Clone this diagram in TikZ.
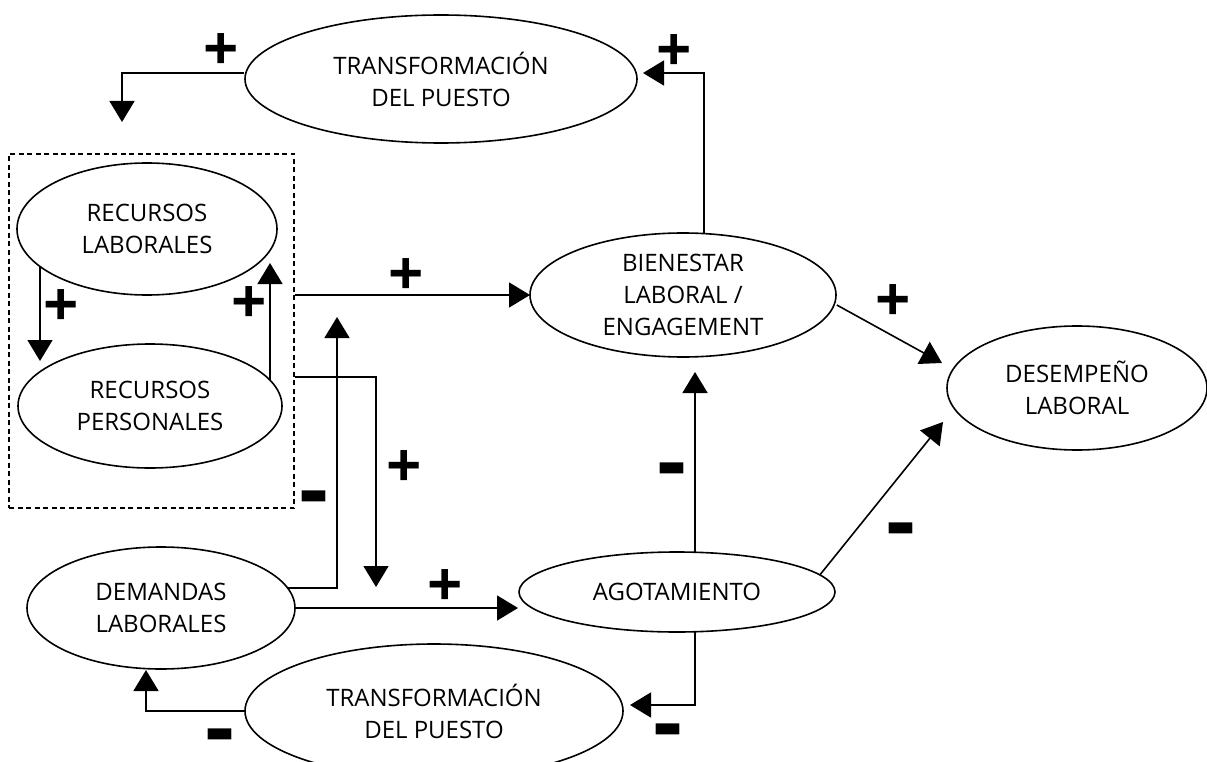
\documentclass[tikz,border=0pt]{standalone}
\usepackage{fontspec}
\setmainfont{Open Sans}
\usetikzlibrary{shapes.geometric,arrows.meta}
\pgfdeclarelayer{bg}
\pgfsetlayers{bg,main}
\begin{document}
\begin{tikzpicture}[x=1pt,y=-1pt,
  el/.style={ellipse,draw,line width=1.6pt,fill=white,inner sep=0pt,align=center,
             font=\fontsize{24}{32}\selectfont},
  conn/.style={line width=1.6pt},
  arr/.style={conn,-{Triangle[length=21pt,width=25pt]}},
  sgn/.style={inner sep=0pt,font=\fontsize{62}{62}\selectfont\bfseries},
  neg/.style={inner sep=0pt,yshift=-11pt,font=\fontsize{90}{90}\selectfont\bfseries},
  grp/.style={draw,line width=1.6pt,dash pattern=on 5pt off 3.5pt,inner sep=0pt},
]
\useasboundingbox (0,0) rectangle (1207,762);
% nodes
\node[el,minimum width=392pt,minimum height=128pt] (topT) at (441,79) {TRANSFORMACIÓN\\DEL PUESTO};
\node[grp,minimum width=285pt,minimum height=354pt] (box) at (151.5,331) {};
\node[el,minimum width=260pt,minimum height=132pt] (rl) at (147,229) {RECURSOS\\LABORALES};
\node[el,minimum width=264pt,minimum height=124pt] (rp) at (150,406) {RECURSOS\\PERSONALES};
\node[el,minimum width=306pt,minimum height=124pt] (bien) at (683,295) {BIENESTAR\\LABORAL /\\ENGAGEMENT};
\node[el,minimum width=260pt,minimum height=124pt] (des) at (1077,388) {DESEMPEÑO\\LABORAL};
\node[el,minimum width=268pt,minimum height=122pt] (dem) at (161,608) {DEMANDAS\\LABORALES};
\node[el,minimum width=316pt,minimum height=80pt] (ago) at (677,592) {AGOTAMIENTO};
\node[el,minimum width=378pt,minimum height=134pt] (botT) at (434,711) {TRANSFORMACIÓN\\DEL PUESTO};
% free ends of connectors
\coordinate (t1) at (122,122);
\coordinate (t2) at (643,73);
\coordinate (t3) at (40,361);
\coordinate (t4) at (270,263);
\coordinate (t5) at (530,295);
\coordinate (t6) at (376,587);
\coordinate (t7) at (337,317);
\coordinate (t8) at (518,608);
\coordinate (t9) at (695,372);
\coordinate (t10) at (942,363);
\coordinate (t11) at (943,422);
\coordinate (t12) at (630,705);
\coordinate (t13) at (146,670);
% connectors
\begin{pgfonlayer}{bg}
\draw[arr] ([yshift=6pt]topT.west) -| (t1);
\draw[arr] ([xshift=21pt]bien.center) |- (t2);
\draw[arr] ([xshift=-107pt]rl.center) -- (t3);
\draw[arr] ([xshift=120pt]rp.center) -- (t4);
\draw[arr] (box.east |- t5) -- (t5);
\draw[arr] ([yshift=-46pt]box.east) -| (t6);
\draw[arr] ([yshift=20pt]dem.center) -| (t7);
\draw[arr] (dem.center) -- (t8);
\draw[arr] ([xshift=18pt]ago.center) -- (t9);
\draw[arr] ([yshift=-10pt]bien.east) -- (t10);
\draw[arr] (ago.7) -- (t11);
\draw[arr] ([xshift=18pt]ago.center) |- (t12);
\draw[arr] (botT.center) -| (t13);
\end{pgfonlayer}
% signs
\node[sgn] (p1) at (221,52) {+};
\node[sgn] (p2) at (674,53) {+};
\node[sgn] (p3) at (61,308) {+};
\node[sgn] (p4) at (249,305) {+};
\node[sgn] (p5) at (406,277) {+};
\node[sgn] (p6) at (404,469) {+};
\node[neg] (m7) at (314,495) {-};
\node[sgn] (p8) at (445,588) {+};
\node[neg] (m9) at (672,467) {-};
\node[sgn] (p10) at (893,303) {+};
\node[neg] (m11) at (901,527) {-};
\node[neg] (m12) at (668,728) {-};
\node[neg] (m13) at (220,733) {-};
\end{tikzpicture}
\end{document}
